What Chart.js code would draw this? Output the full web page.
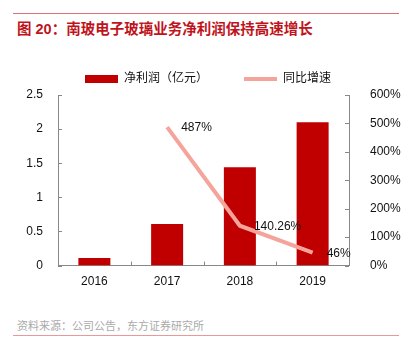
<!DOCTYPE html>
<html>
<head>
<meta charset="utf-8">
<script src="https://cdn.jsdelivr.net/npm/chart.js@4/dist/chart.umd.min.js"></script>
<style>
  body { margin: 0; background: #fff; width: 416px; height: 354px; position: relative; overflow: hidden;
         font-family: "Liberation Sans", "Noto Sans CJK SC", sans-serif; }
  .rule { position: absolute; left: 13px; width: 386px; height: 1px; background: #e07070; }
  #title { position: absolute; left: 17px; top: 17px; font-size: 14.5px; font-weight: bold; color: #c0141c; white-space: nowrap; }
  #source { position: absolute; left: 17px; top: 317px; font-size: 11px; color: #aaa; white-space: nowrap; }
  #box { position: absolute; left: 0; top: 33px; width: 416px; height: 257px; }
</style>
</head>
<body>
<div class="rule" style="top:13px"></div>
<div id="title">图 20：南玻电子玻璃业务净利润保持高速增长</div>
<div id="box"><canvas id="myChart"></canvas></div>
<div id="source">资料来源：公司公告，东方证券研究所</div>
<div class="rule" style="top:335px; background:#e89a9a"></div>
<script>
const years = ['2016', '2017', '2018', '2019'];
const netProfit = [0.11, 0.61, 1.44, 2.10];
const growth = [null, 487, 140.26, 46];
const growthLabels = ['', '487%', '140.26%', '46%'];

const fontFamily = '"Liberation Sans", "Noto Sans CJK SC", sans-serif';

const tickMarks = {
    id: 'tickMarks',
    afterDraw(chart) {
        const ctx = chart.ctx;
        const area = chart.chartArea;
        const x = chart.scales.x, y = chart.scales.y, y1 = chart.scales.y1;
        ctx.save();
        ctx.strokeStyle = '#888';
        ctx.lineWidth = 1;
        ctx.beginPath();
        y.ticks.forEach((t, i) => {
            const py = Math.round(y.getPixelForTick(i)) + 0.5;
            ctx.moveTo(area.left, py); ctx.lineTo(area.left + 4, py);
        });
        y1.ticks.forEach((t, i) => {
            const py = Math.round(y1.getPixelForTick(i)) + 0.5;
            ctx.moveTo(area.right, py); ctx.lineTo(area.right - 4, py);
        });
        for (let i = 1; i < years.length; i++) {
            const px = Math.round((x.getPixelForValue(i - 1) + x.getPixelForValue(i)) / 2) + 0.5;
            ctx.moveTo(px, area.bottom); ctx.lineTo(px, area.bottom - 4);
        }
        ctx.stroke();
        // line value labels
        const meta = chart.getDatasetMeta(1);
        ctx.fillStyle = '#111';
        ctx.font = '12px ' + fontFamily;
        ctx.textAlign = 'left';
        ctx.textBaseline = 'middle';
        meta.data.forEach((pt, i) => {
            if (!growthLabels[i]) return;
            ctx.fillText(growthLabels[i], pt.x + 14, pt.y + 1);
        });
        ctx.restore();
    }
};

const ctx = document.getElementById('myChart').getContext('2d');
const myChart = new Chart(ctx, {
    type: 'bar',
    data: {
        labels: years,
        datasets: [{
            label: '净利润（亿元）',
            data: netProfit,
            backgroundColor: '#c00000',
            borderWidth: 0,
            categoryPercentage: 1,
            barPercentage: 0.44,
            yAxisID: 'y',
            pointStyle: 'rect',
            order: 2
        }, {
            type: 'line',
            label: '同比增速',
            data: growth,
            borderColor: '#f4a49a',
            backgroundColor: '#f4a49a',
            borderWidth: 4,
            pointRadius: 0,
            tension: 0,
            yAxisID: 'y1',
            pointStyle: 'line',
            order: 1
        }]
    },
    options: {
        responsive: true,
        maintainAspectRatio: false,
        animation: false,
        layout: { padding: { top: 4, bottom: 0, left: 0, right: 0 } },
        plugins: {
            legend: {
                display: true,
                position: 'top',
                labels: {
                    usePointStyle: true,
                    pointStyleWidth: 33,
                    boxHeight: 8,
                    padding: 36,
                    color: '#111',
                    font: { size: 12, family: fontFamily },
                    sort: (a, b) => a.datasetIndex - b.datasetIndex
                }
            },
            tooltip: { enabled: false }
        },
        scales: {
            x: {
                grid: { display: false },
                border: { display: true, color: '#888' },
                ticks: { color: '#111', font: { size: 12, family: fontFamily }, padding: 1 }
            },
            y: {
                position: 'left',
                min: 0, max: 2.5,
                ticks: { stepSize: 0.5, color: '#111', font: { size: 12, family: fontFamily }, padding: 7,
                         callback: v => String(+v.toFixed(1)) },
                grid: { display: false },
                border: { display: true, color: '#888' },
                afterFit(scale) { scale.width = 58; }
            },
            y1: {
                position: 'right',
                min: 0, max: 600,
                ticks: { stepSize: 100, color: '#111', font: { size: 12, family: fontFamily }, padding: 13,
                         callback: v => v + '%' },
                grid: { display: false },
                border: { display: true, color: '#888' },
                afterFit(scale) { scale.width = 67; }
            }
        }
    },
    plugins: [tickMarks]
});
</script>
</body>
</html>
